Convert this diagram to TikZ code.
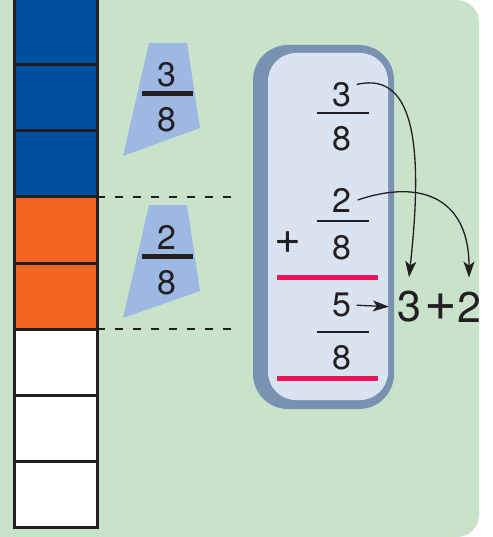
\documentclass[tikz,border=0pt]{standalone}
\usepackage{fontspec}
\setmainfont{TeX Gyre Heros}
\usepackage{tikz}
\usetikzlibrary{arrows.meta, positioning, calc}
\definecolor{bggreen}{RGB}{200,227,202}
\definecolor{barblue}{RGB}{0,80,160}
\definecolor{barorange}{RGB}{242,101,34}
\definecolor{trapblue}{RGB}{157,185,227}
\definecolor{boxframe}{RGB}{122,146,178}
\definecolor{boxfill}{RGB}{218,227,242}
\definecolor{myred}{RGB}{237,20,90}
\definecolor{mydark}{RGB}{35,31,32}
\tikzset{
  cell/.style={rectangle, draw=mydark, line width=3pt, outer sep=0pt,
    minimum width=83pt, minimum height=66pt},
  digit/.style={inner sep=0pt, text=mydark, font=\fontsize{34}{34}\selectfont},
  bigdigit/.style={inner sep=0pt, text=mydark, font=\fontsize{43}{43}\selectfont},
  plussign/.style={inner sep=0pt, text=mydark, font=\fontsize{46}{46}\selectfont},
  bigplus/.style={inner sep=0pt, text=mydark, font=\fontsize{56}{56}\selectfont},
  arrow/.style={-{Stealth[length=16pt,width=11pt,inset=4pt]}, line width=1.3pt, color=mydark},
  fracbar/.style={line width=2pt, color=mydark},
  thickbar/.style={line width=5pt, color=mydark},
  redline/.style={line width=5pt, color=myred},
  dashline/.style={line width=2pt, color=mydark, dash pattern=on 8pt off 10pt}
}
\begin{document}
\begin{tikzpicture}[x=1pt, y=-1pt]
  \useasboundingbox (0,0) rectangle (492,537);
  \fill[bggreen] (0,0) -- (457,0) to[out=0,in=90] (479,22) -- (479,515)
    to[out=-90,in=0] (457,537) -- (0,537) -- cycle;

  % Strip of eighths
  \node[cell, fill=barblue] (c1) at (55.5,32) {};
  \node[cell, fill=barblue, below=0pt of c1] (c2) {};
  \node[cell, fill=barblue, below=0pt of c2] (c3) {};
  \node[cell, fill=barorange, below=0pt of c3] (c4) {};
  \node[cell, fill=barorange, below=0pt of c4] (c5) {};
  \node[cell, fill=white, below=0pt of c5] (c6) {};
  \node[cell, fill=white, below=0pt of c6] (c7) {};
  \node[cell, fill=white, below=0pt of c7] (c8) {};

  \coordinate (dashA) at (235,197);
  \coordinate (dashB) at (235,329);
  \draw[dashline] (c3.south east) -- (dashA);
  \draw[dashline] (c5.south east) -- (dashB);

  % Labels beside the strip
  \fill[trapblue] (149,43) -- (187,43) -- (200,128) -- (123,156) -- cycle;
  \fill[trapblue] (149,205) -- (187,205) -- (200,291) -- (123,318) -- cycle;
  \node[digit] (lblA) at (167,75) {3};
  \draw[thickbar] (142,94) -- (193,94);
  \node[digit] (lblAd) at (167,120) {8};
  \node[digit] (lblB) at (167,237) {2};
  \draw[thickbar] (142,256) -- (193,256);
  \node[digit] (lblBd) at (167,283) {8};

  % Sum box
  \fill[boxframe, rounded corners=35pt] (253,45) rectangle (394,409);
  \fill[boxfill, rounded corners=28pt] (268,53) rectangle (388,400);

  \node[digit] (top3) at (342,95) {3};
  \draw[fracbar] (317,113) -- (369,113);
  \node[digit] (top8) at (342,139) {8};
  \node[digit] (mid2) at (342,200) {2};
  \draw[fracbar] (317,221) -- (369,221);
  \node[digit] (mid8) at (342,248) {8};
  \node[plussign] (plus) at (288,243) {+};
  \draw[redline] (277,277) -- (378,277);
  \node[digit] (res5) at (342,305) {5};
  \draw[fracbar] (317,332) -- (369,332);
  \node[digit] (res8) at (342,358) {8};
  \draw[redline] (277,378) -- (378,378);

  \node[bigdigit] (sumA) at (409,307) {3};
  \node[bigplus] (sumplus) at (441,307) {+};
  \node[bigdigit] (sumB) at (469,307) {2};

  % Connections
  \draw[arrow, shorten <=5pt, shorten >=8pt] (res5.east) -- (sumA.west);
  \draw[arrow] ([xshift=5pt,yshift=-2pt]top3.north east) .. controls +(62,-15) and +(13,-118) .. ([yshift=14pt]sumA.north);
  \draw[arrow] ([xshift=6pt]mid2.east) .. controls +(65,-22) and +(0,-78) .. ([yshift=14pt]sumB.north);
\end{tikzpicture}
\end{document}
